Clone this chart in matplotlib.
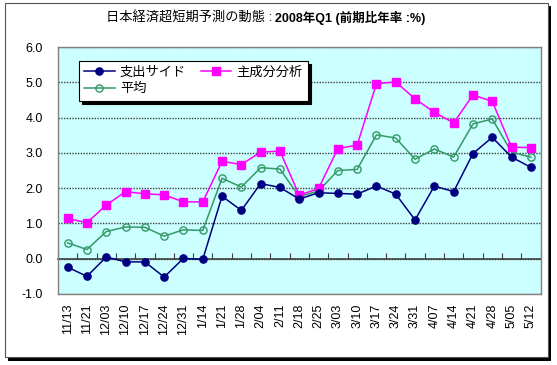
import numpy as np
import matplotlib
matplotlib.use("Agg")
import matplotlib.pyplot as plt
from matplotlib.patches import Rectangle

plt.rcParams['font.family'] = ['Liberation Sans', 'Noto Sans CJK JP', 'DejaVu Sans']

# week labels (forecast dates)
dates = ['11/13', '11/21', '12/03', '12/10', '12/17', '12/24', '12/31', '1/14',
         '1/21', '1/28', '2/04', '2/11', '2/18', '2/25', '3/03', '3/10',
         '3/17', '3/24', '3/31', '4/07', '4/14', '4/21', '4/28', '5/05', '5/12']

# 支出サイド (expenditure side)
spending = [-0.24, -0.50, 0.05, -0.09, -0.09, -0.52, 0.01, -0.02,
            1.77, 1.37, 2.13, 2.02, 1.69, 1.87, 1.85, 1.83,
            2.06, 1.83, 1.10, 2.06, 1.90, 2.98, 3.44, 2.88, 2.59]

# 主成分分析 (principal components)
pca = [1.14, 1.02, 1.52, 1.90, 1.84, 1.81, 1.61, 1.61,
       2.76, 2.67, 3.02, 3.05, 1.80, 1.99, 3.12, 3.22,
       4.96, 5.01, 4.53, 4.15, 3.85, 4.64, 4.46, 3.16, 3.15]

# 平均 (average)
average = [0.45, 0.26, 0.77, 0.90, 0.89, 0.64, 0.82, 0.80,
           2.28, 2.03, 2.58, 2.54, 1.76, 1.92, 2.50, 2.53,
           3.51, 3.42, 2.82, 3.11, 2.88, 3.82, 3.96, 3.02, 2.88]

yticks = [-1, 0, 1, 2, 3, 4, 5, 6]

fig = plt.figure(figsize=(5.57, 3.65), dpi=100)

# outer frame with drop shadow
fig.patches.append(Rectangle((8 / 557, 1 - 361 / 365), 543 / 557, 355 / 365,
                             transform=fig.transFigure, facecolor='black',
                             edgecolor='none', zorder=-2))
fig.patches.append(Rectangle((5 / 557, 1 - 357 / 365), 543 / 557, 354 / 365,
                             transform=fig.transFigure, facecolor='white',
                             edgecolor='#555555', linewidth=0.8, zorder=-1))

ax = fig.add_axes([58 / 557, 1 - 294 / 365, 482.5 / 557, 247 / 365])
ax.set_facecolor('#CCFFFF')
for s in ax.spines.values():
    s.set_color('#808080')
    s.set_linewidth(1)

x = np.arange(len(dates))
ax.plot(x, spending, color='#000080', marker='o', markersize=5.2, lw=1.1,
        label='支出サイド', zorder=4)
ax.plot(x, average, color='#339966', marker='o', markersize=5.2, lw=1.1,
        markerfacecolor='none', markeredgewidth=1, label='平均', zorder=3)
ax.plot(x, pca, color='#FF00FF', marker='s', markersize=5.5, lw=1.1,
        label='主成分分析', zorder=3)

ax.set_xlim(-0.5, len(dates) - 0.5)
ax.set_ylim(-1, 6)
ax.set_yticks(yticks)
ax.set_yticklabels(['%.1f' % v for v in yticks], fontsize=9)
ax.tick_params(axis='y', length=0, pad=11)
ax.yaxis.grid(True, linestyle=(0, (1, 1)), color='#404040', lw=1)
ax.set_axisbelow(True)

ax.set_xticks(x)
ax.set_xticklabels(dates, rotation=90, fontsize=9)
ax.tick_params(axis='x', length=0, pad=7)

# zero line with category boundary ticks
zero = ax.secondary_xaxis(1 / 7)
zero.set_xticks(np.arange(len(dates) + 1) - 0.5)
zero.tick_params(direction='in', length=4, labelbottom=False, color='#404040')
zero.spines['bottom'].set_color('#404040')
zero.spines['bottom'].set_linewidth(1.2)

leg = ax.legend(ncol=2, loc='upper left', bbox_to_anchor=(0.0435, 0.943),
                borderaxespad=0, fontsize=9.5, frameon=True, fancybox=False,
                edgecolor='black', framealpha=1, handlelength=2.3,
                columnspacing=1.1, handletextpad=0.4, borderpad=0.4,
                labelspacing=0.35,
                shadow={'color': 'black', 'alpha': 1})
leg.get_frame().set_linewidth(0.8)

fig.text(272 / 557, 1 - 18 / 365, '日本経済超短期予測の動態 :', ha='right',
         va='center', fontsize=9.5)
fig.text(275 / 557, 1 - 18 / 365, '2008年Q1 (前期比年率 :%)', ha='left',
         va='center', fontsize=9, fontweight='bold')

fig.savefig('out.png', dpi=100)
